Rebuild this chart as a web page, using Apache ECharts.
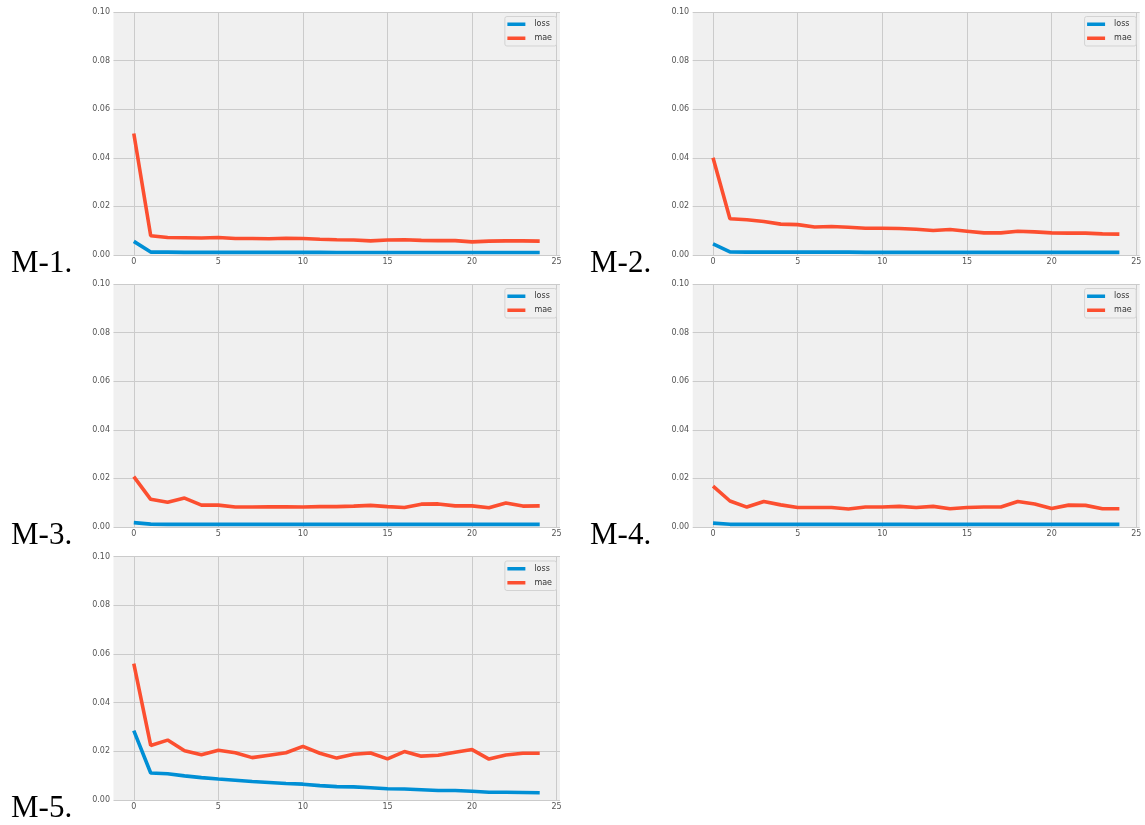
<!DOCTYPE html>
<html>
<head>
<meta charset="utf-8">
<script src="https://cdn.jsdelivr.net/npm/echarts@6/dist/echarts.min.js"></script>
<style>
  html, body { margin: 0; padding: 0; background: #ffffff; }
  #chart { width: 1145px; height: 825px; }
</style>
</head>
<body>
<div id="chart"></div>
<script>
// Training history (loss / mae per epoch) for five models
const epochs = [0, 1, 2, 3, 4, 5, 6, 7, 8, 9, 10, 11, 12, 13, 14, 15, 16, 17, 18, 19, 20, 21, 22, 23, 24];
const xTickValues = [0, 5, 10, 15, 20, 25];
const modelLabels = ['M-1.', 'M-2.', 'M-3.', 'M-4.', 'M-5.'];
const seriesNames = ['loss', 'mae'];

const lossM1 = [0.0056, 0.0012, 0.0012, 0.0011, 0.0011, 0.0011, 0.0011, 0.0011, 0.0011, 0.0011, 0.0011, 0.0011, 0.0010, 0.0010, 0.0010, 0.0010, 0.0010, 0.0010, 0.0010, 0.0010, 0.0010, 0.0010, 0.0010, 0.0010, 0.0010];
const maeM1 = [0.0500, 0.0079, 0.0072, 0.0071, 0.0070, 0.0072, 0.0068, 0.0068, 0.0067, 0.0069, 0.0068, 0.0065, 0.0063, 0.0062, 0.0058, 0.0062, 0.0063, 0.0060, 0.0059, 0.0059, 0.0054, 0.0057, 0.0058, 0.0058, 0.0057];

const lossM2 = [0.0046, 0.0013, 0.0012, 0.0012, 0.0012, 0.0012, 0.0012, 0.0012, 0.0012, 0.0011, 0.0011, 0.0011, 0.0011, 0.0011, 0.0011, 0.0011, 0.0011, 0.0011, 0.0011, 0.0011, 0.0011, 0.0011, 0.0011, 0.0011, 0.0011];
const maeM2 = [0.0400, 0.0149, 0.0145, 0.0138, 0.0127, 0.0125, 0.0115, 0.0117, 0.0114, 0.0110, 0.0110, 0.0109, 0.0106, 0.0101, 0.0105, 0.0098, 0.0091, 0.0091, 0.0098, 0.0095, 0.0091, 0.0090, 0.0090, 0.0087, 0.0086];

const lossM3 = [0.0018, 0.0012, 0.0011, 0.0011, 0.0011, 0.0011, 0.0011, 0.0011, 0.0011, 0.0011, 0.0011, 0.0011, 0.0011, 0.0011, 0.0011, 0.0011, 0.0011, 0.0011, 0.0011, 0.0011, 0.0011, 0.0011, 0.0011, 0.0011, 0.0011];
const maeM3 = [0.0207, 0.0114, 0.0102, 0.0119, 0.0090, 0.0090, 0.0082, 0.0082, 0.0083, 0.0083, 0.0082, 0.0084, 0.0084, 0.0086, 0.0089, 0.0084, 0.0080, 0.0094, 0.0095, 0.0087, 0.0087, 0.0079, 0.0099, 0.0086, 0.0087];

const lossM4 = [0.0016, 0.0011, 0.0011, 0.0011, 0.0011, 0.0011, 0.0011, 0.0011, 0.0011, 0.0011, 0.0011, 0.0011, 0.0011, 0.0011, 0.0011, 0.0011, 0.0011, 0.0011, 0.0011, 0.0011, 0.0011, 0.0011, 0.0011, 0.0011, 0.0011];
const maeM4 = [0.0168, 0.0107, 0.0082, 0.0105, 0.0091, 0.0080, 0.0080, 0.0080, 0.0074, 0.0082, 0.0082, 0.0085, 0.0080, 0.0085, 0.0075, 0.0080, 0.0082, 0.0082, 0.0105, 0.0095, 0.0076, 0.0090, 0.0089, 0.0075, 0.0075];

const lossM5 = [0.0285, 0.0111, 0.0108, 0.0099, 0.0092, 0.0086, 0.0081, 0.0076, 0.0072, 0.0068, 0.0065, 0.0059, 0.0055, 0.0054, 0.0050, 0.0046, 0.0045, 0.0042, 0.0039, 0.0039, 0.0036, 0.0032, 0.0032, 0.0031, 0.0030];
const maeM5 = [0.0560, 0.0224, 0.0246, 0.0202, 0.0186, 0.0204, 0.0194, 0.0174, 0.0184, 0.0194, 0.0220, 0.0192, 0.0172, 0.0188, 0.0193, 0.0169, 0.0199, 0.0180, 0.0184, 0.0196, 0.0207, 0.0168, 0.0185, 0.0192, 0.0192];

const lossSets = [lossM1, lossM2, lossM3, lossM4, lossM5];
const maeSets = [maeM1, maeM2, maeM3, maeM4, maeM5];

// Panel placement (px): two columns, three rows
const panels = [
  { left: 113.5, top: 12,    width: 446.5, height: 243 },
  { left: 692.7, top: 12,    width: 447,   height: 243 },
  { left: 113.5, top: 284,   width: 446.5, height: 243 },
  { left: 692.7, top: 284,   width: 447,   height: 243 },
  { left: 113.5, top: 556.5, width: 446.5, height: 243.5 }
];
const labelPos = [
  { x: 11,  y: 263.5 },
  { x: 590, y: 263.5 },
  { x: 11,  y: 535.5 },
  { x: 590, y: 535.5 },
  { x: 11,  y: 808 }
];

const BLUE = '#008fd5';
const RED = '#fc4f30';
const TICK_FONT = { fontFamily: 'DejaVu Sans', fontSize: 8, color: '#555555' };

const grid = [], xAxis = [], yAxis = [], series = [], legend = [], graphic = [];

panels.forEach((p, i) => {
  grid.push({
    left: p.left, top: p.top, width: p.width, height: p.height,
    show: true, backgroundColor: '#f0f0f0', borderWidth: 0
  });
  xAxis.push({
    type: 'value', gridIndex: i, min: -1.2, max: 25.2,
    axisLine: { show: false },
    axisTick: { show: false, customValues: xTickValues },
    axisLabel: Object.assign({ margin: 3, customValues: xTickValues }, TICK_FONT),
    splitLine: { show: true, lineStyle: { color: '#cbcbcb', width: 1 } }
  });
  yAxis.push({
    type: 'value', gridIndex: i, min: 0, max: 0.1, interval: 0.02,
    axisLine: { show: false },
    axisTick: { show: false },
    axisLabel: Object.assign({ margin: 3.5, formatter: v => v.toFixed(2) }, TICK_FONT),
    splitLine: { show: true, lineStyle: { color: '#cbcbcb', width: 1 } }
  });
  series.push({
    name: seriesNames[0], type: 'line', xAxisIndex: i, yAxisIndex: i,
    data: epochs.map((e, k) => [e, lossSets[i][k]]),
    showSymbol: false, color: BLUE, silent: true, animation: false,
    lineStyle: { color: BLUE, width: 3.6 }
  });
  series.push({
    name: seriesNames[1], type: 'line', xAxisIndex: i, yAxisIndex: i,
    data: epochs.map((e, k) => [e, maeSets[i][k]]),
    showSymbol: false, color: RED, silent: true, animation: false,
    lineStyle: { color: RED, width: 3.6 }
  });
  legend.push({
    data: seriesNames,
    orient: 'vertical',
    right: 1145 - (p.left + p.width - 3.5),
    top: p.top + 4.5,
    icon: 'rect', itemWidth: 18, itemHeight: 3.5, itemGap: 4.5,
    padding: [3, 4.5, 3, 2.5],
    backgroundColor: '#f0f0f0', borderColor: '#d3d3d3', borderWidth: 1, borderRadius: 2,
    selectedMode: false,
    textStyle: { fontFamily: 'DejaVu Sans', fontSize: 8, color: '#333333', lineHeight: 9.5, padding: [0, 0, 0, 4] }
  });
  graphic.push({
    type: 'text', left: labelPos[i].x, top: labelPos[i].y - 15,
    style: { text: modelLabels[i], font: '31px "Liberation Serif"', fill: '#000000' }
  });
});

const chart = echarts.init(document.getElementById('chart'), null, { renderer: 'canvas' });
chart.setOption({
  animation: false,
  backgroundColor: '#ffffff',
  grid, xAxis, yAxis, series, legend, graphic
});
</script>
</body>
</html>
